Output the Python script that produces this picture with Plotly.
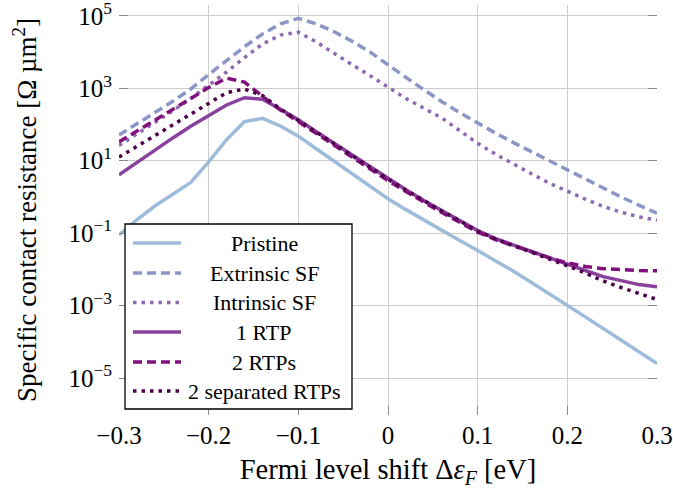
import plotly.graph_objects as go

# ---------------- data ----------------
fermi_shift = [-0.30, -0.28, -0.26, -0.24, -0.22, -0.20, -0.18, -0.16, -0.14, -0.12,
               -0.10, -0.08, -0.06, -0.04, -0.02, 0.00, 0.02, 0.04, 0.06, 0.08,
               0.10, 0.12, 0.14, 0.16, 0.18, 0.20, 0.22, 0.24, 0.26, 0.28, 0.30]

# log10 of specific contact resistance [Ohm um^2]
pristine_log10 = [-1.05, -0.63, -0.25, 0.08, 0.40, 0.97, 1.58, 2.08, 2.17, 1.96,
                  1.68, 1.33, 0.98, 0.63, 0.28, -0.05, -0.35, -0.64, -0.92, -1.20,
                  -1.48, -1.76, -2.05, -2.36, -2.67, -2.99, -3.31, -3.63, -3.95, -4.28, -4.60]
extrinsic_log10 = [1.71, 2.03, 2.33, 2.64, 2.98, 3.38, 3.78, 4.15, 4.50, 4.78,
                   4.93, 4.78, 4.56, 4.30, 4.00, 3.64, 3.30, 2.96, 2.63, 2.33,
                   2.04, 1.76, 1.50, 1.25, 1.00, 0.75, 0.50, 0.24, 0.00, -0.23, -0.45]
intrinsic_log10 = [1.42, 1.74, 2.05, 2.38, 2.72, 3.08, 3.45, 3.85, 4.22, 4.47,
                   4.55, 4.28, 3.96, 3.65, 3.35, 3.03, 2.72, 2.45, 2.18, 1.83,
                   1.48, 1.18, 0.90, 0.64, 0.38, 0.15, -0.06, -0.26, -0.42, -0.55, -0.64]
rtp1_log10 = [0.61, 0.95, 1.30, 1.63, 1.95, 2.25, 2.54, 2.74, 2.70, 2.42,
              2.13, 1.80, 1.48, 1.15, 0.83, 0.50, 0.20, -0.10, -0.38, -0.65,
              -0.93, -1.15, -1.33, -1.50, -1.68, -1.86, -2.03, -2.20, -2.32, -2.42, -2.48]
rtp2_log10 = [1.52, 1.82, 2.12, 2.42, 2.72, 3.02, 3.28, 3.17, 2.78, 2.40,
              2.08, 1.75, 1.42, 1.10, 0.78, 0.45, 0.15, -0.15, -0.43, -0.70,
              -0.97, -1.18, -1.35, -1.52, -1.68, -1.82, -1.92, -1.98, -2.01, -2.03, -2.04]
rtp2sep_log10 = [1.10, 1.40, 1.70, 2.00, 2.30, 2.60, 2.88, 2.98, 2.80, 2.43,
                 2.12, 1.79, 1.47, 1.14, 0.82, 0.49, 0.19, -0.11, -0.39, -0.66,
                 -0.94, -1.16, -1.34, -1.52, -1.70, -1.90, -2.10, -2.32, -2.50, -2.67, -2.83]

series_names = ["Pristine", "Extrinsic SF", "Intrinsic SF", "1 RTP", "2 RTPs", "2 separated RTPs"]
series_values = [pristine_log10, extrinsic_log10, intrinsic_log10, rtp1_log10, rtp2_log10, rtp2sep_log10]

x_tick_vals = [-0.3, -0.2, -0.1, 0.0, 0.1, 0.2, 0.3]
x_tick_text = ["\u22120.3", "\u22120.2", "\u22120.1", "0", "0.1", "0.2", "0.3"]
y_tick_vals = [1e5, 1e3, 1e1, 1e-1, 1e-3, 1e-5]
y_tick_text = ["10<sup>5</sup>", "10<sup>3</sup>", "10<sup>1</sup>",
               "10<sup>\u22121</sup>", "10<sup>\u22123</sup>", "10<sup>\u22125</sup>"]

# ---------------- styles ----------------
colors = ["#9ebcda", "#8c96c6", "#8c6bb1", "#88419d", "#810f7c", "#4d004b"]
dashes = ["solid", "9px,5px", "3.5px,5px", "solid", "9px,5px", "3.5px,5px"]
LW = 3.5
FONT = "Liberation Serif"

W, H = 673, 489
ML, MR, MT, MB = 119, 16, 5, 74
PW, PH = W - ML - MR, H - MT - MB

fig = go.Figure()
for name, vals, c, d in zip(series_names, series_values, colors, dashes):
    fig.add_trace(go.Scatter(
        x=fermi_shift, y=[10 ** v for v in vals], mode="lines", name=name,
        line=dict(color=c, width=LW, dash=d), showlegend=False))

# ---------------- manual legend (centered text, as in the original) ----------------
def px2paper(px, py):
    return (px - ML) / PW, (H - MB - py) / PH

lx0, ly0 = px2paper(125, 409)
lx1, ly1 = px2paper(352, 224)
shapes = [dict(type="rect", xref="paper", yref="paper", x0=lx0, y0=ly0, x1=lx1, y1=ly1,
               fillcolor="white", line=dict(color="black", width=1.3), layer="above")]
annotations = []
entry_y = [243, 273, 302.5, 332, 362, 391]
for i, (name, c, d) in enumerate(zip(series_names, colors, dashes)):
    sx0, sy = px2paper(133, entry_y[i])
    sx1, _ = px2paper(181, entry_y[i])
    shapes.append(dict(type="line", xref="paper", yref="paper", x0=sx0, x1=sx1, y0=sy, y1=sy,
                       line=dict(color=c, width=LW, dash=d), layer="above"))
    tx, _ = px2paper(264, entry_y[i])
    annotations.append(dict(xref="paper", yref="paper", x=tx, y=sy, text=name, showarrow=False,
                            xanchor="center", yanchor="middle",
                            font=dict(family=FONT, size=22, color="black")))

fig.update_layout(
    width=W, height=H, autosize=False,
    margin=dict(l=ML, r=MR, t=MT, b=MB, pad=0),
    paper_bgcolor="white", plot_bgcolor="white",
    font=dict(family=FONT, size=22, color="black"),
    shapes=shapes, annotations=annotations,
    xaxis=dict(range=[-0.3, 0.3], tickvals=x_tick_vals, ticktext=x_tick_text,
               automargin=False, ticklabeloverflow="allow", ticklabelstandoff=3,
               showgrid=True, gridcolor="#cccccc", gridwidth=1.3, zeroline=False,
               showline=False, ticks="inside", ticklen=9, tickwidth=1.3, tickcolor="#8a8a8a",
               tickfont=dict(family=FONT, size=25),
               title=dict(text="Fermi level shift \u0394<i>\u03b5</i><sub><i>F</i></sub> [eV]",
                          font=dict(family=FONT, size=28.5), standoff=15)),
    yaxis=dict(type="log", range=[-6.02, 5.30], tickvals=y_tick_vals, ticktext=y_tick_text,
               automargin=False, ticklabeloverflow="allow", ticklabelstandoff=6,
               showgrid=True, gridcolor="#cccccc", gridwidth=1.3, zeroline=False,
               showline=False, ticks="inside", ticklen=9, tickwidth=1.3, tickcolor="#8a8a8a",
               mirror="ticks",
               tickfont=dict(family=FONT, size=25),
               title=dict(text="Specific contact resistance [\u03a9 \u00b5m<sup>2</sup>]",
                          font=dict(family=FONT, size=27), standoff=23)),
)

fig.write_html("out.html", config={"displayModeBar": False},
               post_script="document.body.style.margin='0px';document.body.style.overflow='hidden';")
